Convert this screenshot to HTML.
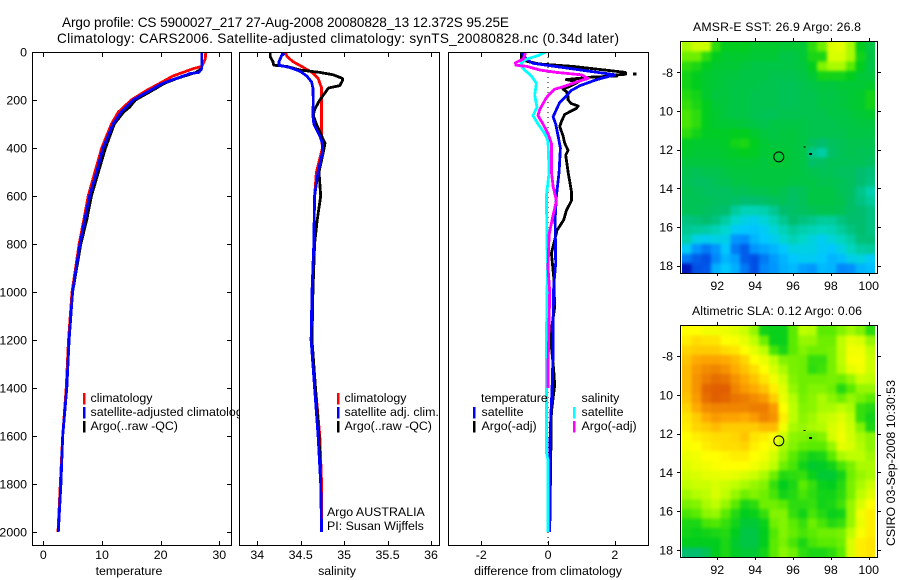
<!DOCTYPE html>
<html>
<head>
<meta charset="utf-8">
<title>Argo profile</title>
<style>
html,body{margin:0;padding:0;background:#fff;}
svg{display:block;}
text{font-family:"Liberation Sans",sans-serif;font-size:12.4px;fill:#000;}
.title{font-size:13.6px;}
.maptitle{font-size:12.3px;}
</style>
</head>
<body>
<svg id="chart" width="900" height="580" viewBox="0 0 900 580" xmlns="http://www.w3.org/2000/svg">
<rect x="0" y="0" width="900" height="580" fill="#fff"/>
<text class="title" x="62" y="27" textLength="447">Argo profile: CS 5900027_217 27-Aug-2008 20080828_13 12.372S 95.25E</text>
<text class="title" x="57" y="43" textLength="562">Climatology: CARS2006. Satellite-adjusted climatology: synTS_20080828.nc (0.34d later)</text>
<text class="maptitle" x="693" y="31" textLength="168">AMSR-E SST: 26.9 Argo: 26.8</text>
<text class="maptitle" x="692" y="315" textLength="170">Altimetric SLA: 0.12 Argo: 0.06</text>
<text x="0" y="0" transform="translate(895,546) rotate(-90)" textLength="166">CSIRO 03-Sep-2008 10:30:53</text>
</svg>
<script>
// ---------- profile data ----------
const tempClimDepth = [0,30,60,70,100,130,160,200,250,300,400,500,600,700,800,900,1000,1200,1400,1600,1800,2000];
const tempClimValue = [27.7,27.6,27,25.5,22.1,19.9,17.6,15,12.8,11.6,9.95,8.8,7.65,6.9,6.1,5.5,4.9,4.3,3.9,3.3,2.9,2.5];
const tempArgoDepth = [0,70,85,110,130,160,200,230,250,300,400,500,600,700,800,1000,1200,1400,1600,1800,2000];
const tempArgoValue = [27,27,26,22.8,20.7,18.6,15.7,14.7,13.7,12.1,10.6,9.4,8.2,7.4,6.4,5,4.4,4,3.3,3,2.55];
const tempSatDepth = [0,70,85,90,110,130,160,200,250,300,400,500,600,700,800,900,1000,1200,1400,1600,1800,2000];
const tempSatValue = [27,27,26.5,25,22.7,20.4,18.2,15.3,13.3,11.9,10.2,9.1,7.9,7.05,6.25,5.6,5,4.4,4,3.3,3,2.55];

const salClimDepth = [0,20,40,60,85,110,150,200,300,350,400,500,600,800,1000,1200,1400,1600,1800,2000];
const salClimValue = [34.32,34.345,34.41,34.51,34.63,34.7,34.74,34.74,34.74,34.74,34.75,34.68,34.66,34.65,34.63,34.62,34.67,34.72,34.74,34.74];
const salArgoDepth = [0,20,40,55,60,75,85,95,110,120,140,150,170,200,240,265,300,350,380,400,450,500,600,700,800,1000,1200,1400,1600,1800,2000];
const salArgoValue = [34.15,34.15,34.18,34.19,34.34,34.49,34.72,34.875,34.98,34.98,34.95,34.82,34.78,34.72,34.66,34.645,34.68,34.74,34.78,34.77,34.74,34.71,34.73,34.69,34.66,34.64,34.63,34.67,34.71,34.73,34.74];
const salSatDepth = [0,10,15,40,55,65,80,100,125,150,200,265,300,350,380,420,500,600,800,1000,1200,1400,1600,1800,2000];
const salSatValue = [34.28,34.3,34.28,34.25,34.25,34.38,34.49,34.57,34.625,34.64,34.645,34.64,34.65,34.72,34.75,34.75,34.7,34.66,34.65,34.63,34.62,34.66,34.7,34.73,34.74];

const diffTempArgoDepth = [0,30,40,50,60,85,93,97,100,105,115,125,140,155,165,185,200,215,225,235,260,290,310,350,380,410,430,500,580,620,660,700,742,783,838,938,1062,1188,1325,1388,1500,2000];
const diffTempArgoValue = [-0.8,-0.8,-0.6,-0.25,0.75,2.32,2.32,1.8,2.07,1.26,0.55,0.9,0.7,0.45,0.55,0.6,0.6,0.7,0.9,0.85,0.5,0.4,0.35,0.45,0.5,0.6,0.53,0.6,0.7,0.7,0.55,0.47,0.27,0.2,0.1,0.17,0.2,0.07,0.17,0.2,0.1,0.05];
const diffTempSatDepth = [0,20,30,40,47,95,115,140,160,190,210,240,270,300,350,400,500,600,700,880,975,1115,1254,1396,1533,1670,1780,2000];
const diffTempSatValue = [-0.8,-0.7,-0.63,-0.55,-0.45,2,1.46,0.96,0.7,0.5,0.35,0.25,0.15,0.23,0.3,0.37,0.33,0.25,0.21,0.23,0.17,0.15,0.15,0.12,0.08,0.05,0.05,0.05];
const diffSalSatDepth = [0,15,30,45,60,75,100,130,180,230,265,300,340,370,500,600,780,900,1200,1500,1670,1700,2000];
const diffSalSatValue = [-0.07,-0.3,-0.65,-0.8,-0.8,-0.7,-0.5,-0.35,-0.4,-0.33,-0.45,-0.3,-0.1,0,0.03,-0.05,-0.03,-0.02,-0.05,-0.05,-0.05,0,0];
const diffSalArgoDepth = [0,15,30,45,55,60,75,85,95,110,125,145,155,190,240,265,300,340,380,500,560,620,680,760,900,1000,1200,1300,1400];
const diffSalArgoValue = [-0.68,-0.7,-0.75,-0.98,-0.96,-0.63,-0.25,0.25,1,1.2,0.85,0.45,0.2,-0.05,-0.25,-0.3,-0.15,0,0.1,0.1,0.15,0.25,0.15,0.03,0,0.05,0.02,0,0];
const diffOutlierDepth = [92,92];
const diffOutlierValue = [2.55,2.65];

// ---------- tick labels ----------
const depthTicks = [0,200,400,600,800,1000,1200,1400,1600,1800,2000];
const tempTicks = [0,10,20,30];
const salTicks = [34,34.5,35,35.5,36];
const diffTicks = [-2,0,2];
const lonTicks = [92,94,96,98,100];
const latTicks = [8,10,12,14,16,18];
const latTickLabels = ['-8','10','12','14','16','18'];

// ---------- map data (0..11 colour index, rows north to south) ----------
const sstGrid = [
[7.8,8.2,8.2,6.5,6,6,6,5.8,5.8,5.8,5.7,5.7,5.7,6.5,7.2,8.5,8.6,7.8,6,5.5],
[7.2,7.2,6.5,6,5.8,5.8,5.8,5.7,5.7,5.7,5.5,5.5,5.7,6.3,6.3,8.4,8.4,7.8,6.2,5.5],
[6.5,6.3,6,5.8,5.7,5.7,5.6,5.5,5.5,5.5,5.5,5.5,5.6,6,7.4,7.8,7.8,7,6,5.5],
[6.2,6,5.8,5.7,5.6,5.6,5.5,5.5,5.5,5.4,5.4,5.4,5.5,5.7,6.2,6.2,6.2,6,5.7,5.6],
[6.2,6,5.8,5.7,5.6,5.5,5.5,5.5,5.4,5.4,5.3,5.3,5.4,5.5,5.6,5.6,5.7,5.7,5.7,5.8],
[6.4,6.2,5.8,5.6,5.6,5.5,5.5,5.4,5.4,5.4,5.3,5.3,5.4,5.4,5.5,5.5,5.6,5.7,5.8,6.2],
[6.6,6.3,6,5.7,5.6,5.5,5.5,5.4,5.4,5.4,5.3,5.3,5.4,5.4,5.5,5.5,5.6,5.7,5.8,6.2],
[6.8,6.5,6,5.8,5.6,5.5,5.5,5.4,5.3,5.3,5.4,5.4,5.4,5.4,5.4,5.5,5.5,5.6,5.7,5.8],
[6.8,6.5,6,5.8,5.7,5.7,5.6,5.5,5.4,5.5,5.5,5.5,5.5,5.4,5.4,5.4,5.5,5.5,5.6,5.6],
[6.5,6.2,5.9,5.9,5.9,6,6,5.8,5.6,5.5,5.6,5.6,5.5,5.4,5.4,5.4,5.4,5.5,5.5,5.5],
[5.9,5.8,5.8,5.8,5.9,6.2,6.3,6,5.7,5.6,5.6,5.6,5.5,5.2,5,5.2,5.3,5.4,5.4,5.4],
[5.8,5.7,5.7,5.7,5.8,5.9,6,5.9,5.7,5.7,5.7,5.6,5.5,4.7,4.4,5.1,5.3,5.4,5.3,5.3],
[5.6,5.6,5.6,5.6,5.7,5.7,5.7,5.7,5.6,5.7,5.7,5.6,5.5,5.1,5.2,5.3,5.3,5.3,5.3,5.2],
[5.4,5.3,5.4,5.4,5.5,5.6,5.6,5.6,5.6,5.6,5.6,5.6,5.5,5.4,5.3,5.3,5.2,5.2,5,4.9],
[5.3,5.2,5.2,5.3,5.4,5.5,5.5,5.6,5.6,5.6,5.6,5.5,5.5,5.5,5.4,5.4,5.3,5.2,5,4.8],
[5.4,5.3,5.2,5.2,5.2,5.3,5.3,5.4,5.4,5.5,5.4,5.2,5.3,5.5,5.5,5.5,5.3,5.2,4.7,4.3],
[5.3,5.3,5.3,5.2,5.2,5.1,5,5,5.1,5.2,5.3,5.1,5.3,5.5,5.5,5.5,5.4,5.1,4.8,4.5],
[5.3,5.3,5.2,5.1,5,4.5,4.2,4.2,4.3,4.6,5,5.1,5.2,5.3,5.4,5.4,5.3,5.1,5,4.8],
[4.8,4.9,5,4.8,4.4,3.9,3.5,3.3,3.7,4.2,4.6,5,4.8,4.7,4.5,4.5,4.8,5,5,4.8],
[4.6,4.5,4.4,4.2,3.9,3.2,3,2.9,3.2,3.7,4.2,4.5,4.3,4.2,4.1,4.2,4.5,4.8,5,4.8],
[4.3,3.5,3.3,3.5,3.4,2,1.9,2.6,3,3.3,3.8,4.2,4,3.6,3.3,3.7,4.1,4.4,4.9,4.9],
[3.2,2,1.6,2,3,1.6,1.2,2,2.3,2.6,3,3.5,3.5,3.5,3.2,3,3.5,4.1,4.4,4.5],
[1.6,1.2,1,1.8,2.6,2.2,1.2,1,1.6,2.1,2.6,3,3.2,3.2,3,2.6,2.8,3.4,3.6,3.2],
[0.3,1,1.1,2.5,3,2.5,1.6,1,1.8,2,2.5,2.7,2.2,2,2.7,2.6,1.8,1.9,2.6,2.8]
];
const slaGrid = [
[9,9,8.8,8.8,8.7,8.5,8.2,7.6,6.2,6.1,6.1,7,8,7.9,7,7,7.4,7.7,7.4,6.5],
[9.2,9.4,9.3,9.3,9,8.9,8.6,8,7.2,6.1,6.1,7,7.6,7.6,7.2,7.2,8,8.6,8.4,7.6],
[9.5,9.6,9.6,9.6,9.4,9.3,9,8.6,8,6.8,6.3,7,7.4,7.2,7.2,7.3,8,8.8,8.8,8],
[9.7,10,10.1,10.1,10,9.8,9.5,9,8.7,8,7.4,7.3,7.2,6.6,6.6,7.3,8,8.9,8.9,8.2],
[9.8,10.2,10.4,10.5,10.3,10,9.7,9.4,9,8.4,7.8,7.3,7.2,6.5,6.7,7.3,7.9,8.6,8.8,8.2],
[9.8,10.3,10.6,10.8,10.7,10.3,10,9.7,9.3,8.8,8.2,7.4,7.2,7.2,7.2,7.3,7.2,7.6,8.2,8],
[9.8,10.3,10.9,11.1,11,10.5,10.2,10,9.7,9.2,8.5,7.6,7.2,7.4,7.4,7.2,6.4,7,7.6,7.6],
[9.7,10.2,10.8,11,10.9,10.7,10.6,10.4,10.2,9.6,8.7,7.9,7.3,7.5,7.8,7.5,7.2,7.6,7.3,7],
[9.5,10,10.4,10.5,10.5,10.5,10.5,10.6,10.6,10.2,9,8,7.4,7.5,7.8,7.8,8,7.8,6.6,6.4],
[9.3,9.6,10,10.2,10.1,10.1,10,10.2,10.5,10.3,9.2,8,7.5,7.7,8,8.2,8.5,8,6.6,6.2],
[9.2,9.5,9.6,9.8,9.6,9.6,9.6,9.6,9.8,9.8,8.8,7.8,7.6,7.8,7.9,8.4,8.7,8.2,7.4,6.3],
[9,9.2,9.3,9.4,9.4,9.5,9.7,9.3,9.2,8.9,8.2,7.5,7.4,7.2,7.4,8.3,8.8,8.3,7.8,7.5],
[8.9,9,9.2,9.3,9.4,9.4,9.5,9.2,9,8.7,7.8,7.4,7.1,7,7,7.6,8.6,8.4,7.9,7.5],
[8.7,8.8,9,9,9.1,9.2,9.2,9,8.8,8.3,7.6,7,6.5,6.2,6.3,7,7.8,8,8,7.7],
[8.5,8.7,8.8,8.9,9,9,9,8.8,8.5,8,7.2,6.8,6.2,5.8,5.9,6.2,6.8,7.3,7.8,7.8],
[8.3,8.4,8.6,8.6,8.7,8.6,8.4,8.2,7.8,7.2,6.4,6.5,6.6,6.1,5.7,5.7,6.2,7.2,7.6,7.8],
[8,8.2,8.2,8.4,8.2,8,7.8,7.6,7.4,6.6,6,6.3,7,6.6,6.1,6,6.4,7.3,7.8,8.2],
[7.7,7.9,8,8.4,8,7.6,7.2,7.4,7.2,6.8,6.2,6.4,6.8,6.5,6.2,6.2,6.5,7.3,8,8.5],
[7.3,7.4,7.8,8,7.6,7,6.3,6.5,7.2,7.2,7,6.5,6.5,6.6,6.2,6.3,6.7,7.6,8.4,9],
[6.8,7,7.5,7.6,7,6.4,6,6.1,6.6,7.4,7.4,6.6,6.2,6.8,6.4,6.1,6.2,7.6,8.8,9.2],
[6.3,6.3,6.8,6.9,6.6,6.2,5.7,5.7,6.1,7.2,7.4,7,6.6,7.2,6.8,6.4,6.6,7.6,8.7,9.2],
[6.2,6.1,6.2,6.3,6.4,6,5.5,5.5,6,6.9,7.4,7.1,6.8,7,7.2,7.2,7.3,8,8.9,9.2],
[6,6,6,6,6.3,5.8,5.5,5.5,6,7,7.3,6.8,6.3,6.8,7,7,7.2,8.4,9.2,9.3],
[5,5,5.3,6,6.3,5.9,5.7,5.7,6.2,7,7.5,7.2,6.5,6.3,6.3,6.5,7,8.4,9.2,9.3]
];
const stationLon = [95.25];
const stationLat = [12.372];
const markerLon = [96.9,96.6];
const markerLat = [12.2,11.85];

// ---------- helpers ----------
const svg = document.getElementById('chart');
const NS = 'http://www.w3.org/2000/svg';
function el(tag, attrs, parent) {
  const e = document.createElementNS(NS, tag);
  for (const k in attrs) e.setAttribute(k, attrs[k]);
  (parent || svg).appendChild(e);
  return e;
}
function linear(d0, r0, d1, r1) {
  return v => r0 + (v - d0) * (r1 - r0) / (d1 - d0);
}
const depthY = linear(0, 52, 2000, 532);
const tempX = linear(0, 43.3, 30, 219.3);
const salX = linear(34, 257.3, 36, 431);
const diffX = linear(-2, 481.3, 2, 614.8);
const lonX = linear(92, 717.3, 100, 868.7);
const sstLatY = linear(8, 72.3, 18, 265.7);
const slaLatY = linear(8, 356, 18, 550);

const clipDefs = el('defs', {});
function addClip(id, x, y, w, h) {
  const c = el('clipPath', {id: id}, clipDefs);
  el('rect', {x: x, y: y, width: w, height: h}, c);
}
const smooth = el('filter', {id: 'map-smooth', x: '-5%', y: '-5%', width: '110%', height: '110%', 'color-interpolation-filters': 'sRGB'}, clipDefs);
el('feGaussianBlur', {stdDeviation: 1.5}, smooth);
const alphaFix = el('feComponentTransfer', {}, smooth);
el('feFuncA', {type: 'linear', slope: 50, intercept: 0}, alphaFix);

function drawLine(depths, values, xScale, color, clipId, name) {
  const pts = depths.map((d, i) => xScale(values[i]).toFixed(1) + ',' + depthY(d).toFixed(1)).join(' ');
  const p = el('polyline', {points: pts, fill: 'none', stroke: color, 'stroke-width': 2.8, 'stroke-linejoin': 'round', 'clip-path': 'url(#' + clipId + ')', 'shape-rendering': 'crispEdges'});
  
  
}

function drawPanelBackground(x, y, w, h, name) {
  const r = el('rect', {x: x, y: y, width: w, height: h, fill: '#fff'});
  
  
}
function drawBox(x, y, w, h, name) {
  const r = el('rect', {x: x + 0.5, y: y + 0.5, width: w, height: h, fill: 'none', stroke: '#000', 'stroke-width': 1, 'shape-rendering': 'crispEdges'});
  
  
}
function tick(x1, y1, x2, y2, name) {
  const l = el('line', {x1: x1, y1: y1, x2: x2, y2: y2, stroke: '#000', 'stroke-width': 1, 'shape-rendering': 'crispEdges'});
  
  
}
function label(x, y, str, anchor, name) {
  const t = el('text', {x: x, y: y, 'text-anchor': anchor || 'start'});
  t.textContent = str;
  
  
  return t;
}
function legendEntry(barX, top, color, textX, baseline, str, name) {
  const b = el('rect', {x: barX, y: top, width: 2.6, height: 11.5, fill: color, 'shape-rendering': 'crispEdges'});
  
  
  label(textX, baseline, str, 'start', name);
}
function xAxis(ticks, scale, left, right, top, bottom, name) {
  ticks.forEach(v => {
    const x = Math.round(scale(v)) + 0.5;
    tick(x, bottom + 0.5, x, bottom - 4, name + '-tick');
    tick(x, top + 0.5, x, top + 5, name + '-top-tick');
    label(scale(v), 559, String(v), 'middle', name + '-label');
  });
}
function depthAxis() {
  depthTicks.forEach(v => {
    const y = Math.round(depthY(v)) + 0.5;
    tick(32, y, 37, y, 'depth-tick');
    tick(227, y, 232, y, 'depth-right-tick');
    label(27, depthY(v) + 4.5, String(v), 'end', 'depth-tick-label');
  });
}

// ---------- panel 1: temperature ----------
addClip('clip1', 32, 52, 200, 493);
addClip('clip2', 240, 52, 199, 493);
addClip('clip3', 449, 52, 200, 493);

drawPanelBackground(32, 52, 199, 493, 'temperature-panel');
drawLine(tempClimDepth, tempClimValue, tempX, '#ff0000', 'clip1', 'temperature-climatology-line');
drawLine(tempArgoDepth, tempArgoValue, tempX, '#000000', 'clip1', 'temperature-argo-line');
drawLine(tempSatDepth, tempSatValue, tempX, '#0000ff', 'clip1', 'temperature-satellite-line');
legendEntry(83, 393, '#ff0000', 90.5, 402, 'climatology', 'temperature-legend-climatology');
legendEntry(83, 407, '#0000ff', 90.5, 416, 'satellite-adjusted climatology', 'temperature-legend-satellite');
legendEntry(83, 421, '#000000', 90.5, 430, 'Argo(..raw -QC)', 'temperature-legend-argo');
drawBox(32, 52, 199, 493, 'temperature-axes-box');
depthAxis();
xAxis(tempTicks, tempX, 32, 231, 52, 545, 'temperature-axis');
label(129, 575, 'temperature', 'middle', 'temperature-axis-title');

// ---------- panel 2: salinity ----------
drawPanelBackground(239, 52, 200, 493, 'salinity-panel');
drawLine(salClimDepth, salClimValue, salX, '#ff0000', 'clip2', 'salinity-climatology-line');
drawLine(salArgoDepth, salArgoValue, salX, '#000000', 'clip2', 'salinity-argo-line');
drawLine(salSatDepth, salSatValue, salX, '#0000ff', 'clip2', 'salinity-satellite-line');
legendEntry(337, 393, '#ff0000', 344.5, 402, 'climatology', 'salinity-legend-climatology');
legendEntry(337, 407, '#0000ff', 344.5, 416, 'satellite adj. clim.', 'salinity-legend-satellite');
legendEntry(337, 421, '#000000', 344.5, 430, 'Argo(..raw -QC)', 'salinity-legend-argo');
label(327, 516, 'Argo AUSTRALIA', 'start', 'data-centre-label');
label(327, 530, 'PI: Susan Wijffels', 'start', 'principal-investigator-label');
drawBox(239, 52, 200, 493, 'salinity-axes-box');
xAxis(salTicks, salX, 239, 439, 52, 545, 'salinity-axis');
label(337, 575, 'salinity', 'middle', 'salinity-axis-title');

// ---------- panel 3: differences ----------
drawPanelBackground(448, 52, 200, 493, 'difference-panel');
const zeroLine = el('line', {x1: diffX(0), y1: depthY(0), x2: diffX(0), y2: 545, stroke: '#000', 'stroke-width': 1, 'stroke-dasharray': '1 4', 'shape-rendering': 'crispEdges'});


drawLine(diffTempArgoDepth, diffTempArgoValue, diffX, '#000000', 'clip3', 'difference-temperature-argo-line');
drawLine(diffTempSatDepth, diffTempSatValue, diffX, '#0000ff', 'clip3', 'difference-temperature-satellite-line');
drawLine(diffSalSatDepth, diffSalSatValue, diffX, '#00ffff', 'clip3', 'difference-salinity-satellite-line');
drawLine(diffSalArgoDepth, diffSalArgoValue, diffX, '#ff00ff', 'clip3', 'difference-salinity-argo-line');
drawLine(diffOutlierDepth, diffOutlierValue, diffX, '#000000', 'clip3', 'difference-temperature-argo-outlier');
label(481, 402, 'temperature', 'start', 'difference-legend-temperature-heading');
legendEntry(473, 407, '#0000ff', 481.5, 416, 'satellite', 'difference-legend-temperature-satellite');
legendEntry(473, 421, '#000000', 481.5, 430, 'Argo(-adj)', 'difference-legend-temperature-argo');
label(581.5, 402, 'salinity', 'start', 'difference-legend-salinity-heading');
legendEntry(573, 407, '#00ffff', 581.5, 416, 'satellite', 'difference-legend-salinity-satellite');
legendEntry(573, 421, '#ff00ff', 581.5, 430, 'Argo(-adj)', 'difference-legend-salinity-argo');
drawBox(448, 52, 200, 493, 'difference-axes-box');
xAxis(diffTicks, diffX, 448, 648, 52, 545, 'difference-axis');
label(548, 575, 'difference from climatology', 'middle', 'difference-axis-title');

// ---------- maps ----------
const colourStops = [
  [0,0,170],[0,80,230],[0,150,255],[0,200,255],[0,215,200],[0,190,110],
  [0,205,30],[90,235,0],[190,255,0],[255,255,0],[255,170,0],[225,95,0]
];
function colourFor(v) {
  const i = Math.max(0, Math.min(colourStops.length - 2, Math.floor(v)));
  const f = Math.max(0, Math.min(1, v - i));
  const a = colourStops[i], b = colourStops[i + 1];
  return 'rgb(' + a.map((c, k) => Math.round(c + (b[k] - c) * f)).join(',') + ')';
}
function drawMap(grid, latY, boxTop, boxBottom, imgTop, imgBottom, labelBaseline, prefix) {
  const rows = grid.length, cols = grid[0].length;
  const imgLeft = 682, imgRight = 875;
  const cw = (imgRight - imgLeft) / cols;
  const ch = (imgBottom - imgTop) / rows;
  const clipId = prefix + '-clip';
  addClip(clipId, imgLeft, imgTop, imgRight - imgLeft, imgBottom - imgTop);
  const outer = el('g', {'clip-path': 'url(#' + clipId + ')'});
  
  
  const inner = el('g', {filter: 'url(#map-smooth)'}, outer);
  grid.forEach((row, r) => {
    row.forEach((v, c) => {
      const cell = el('rect', {x: (imgLeft + c * cw).toFixed(2), y: (imgTop + r * ch).toFixed(2), width: (cw + 0.6).toFixed(2), height: (ch + 0.6).toFixed(2), fill: colourFor(v), 'shape-rendering': 'crispEdges'}, inner);
      
      
    });
  });
  const st = el('circle', {cx: lonX(stationLon[0]), cy: latY(stationLat[0]), r: 5, fill: 'none', stroke: '#000', 'stroke-width': 1});
  
  
  markerLon.forEach((lon, i) => {
    const m = el('rect', {x: lonX(lon) - 1, y: latY(markerLat[i]) - 0.5, width: i === 0 ? 3 : 2, height: i === 0 ? 2 : 1, fill: '#000', 'shape-rendering': 'crispEdges'});
    
    
  });
  drawBox(680, boxTop, 197, boxBottom - boxTop, prefix + '-axes-box');
  lonTicks.forEach(v => {
    const x = Math.round(lonX(v)) + 0.5;
    tick(x, boxTop - 3, x, boxTop, prefix + '-lon-top-tick');
    tick(x, boxBottom, x, boxBottom + 3, prefix + '-lon-tick');
    label(lonX(v), labelBaseline, String(v), 'middle', prefix + '-lon-label');
  });
  latTicks.forEach((v, i) => {
    const y = Math.round(latY(v)) + 0.5;
    tick(677, y, 680, y, prefix + '-lat-tick');
    tick(878, y, 881, y, prefix + '-lat-right-tick');
    label(673, latY(v) + 4.5, latTickLabels[i], 'end', prefix + '-lat-label');
  });
}
drawMap(sstGrid, sstLatY, 41, 273, 42, 273, 290, 'sst-map');
drawMap(slaGrid, slaLatY, 325, 557, 326, 557, 574, 'sla-map');
</script>
</body>
</html>
